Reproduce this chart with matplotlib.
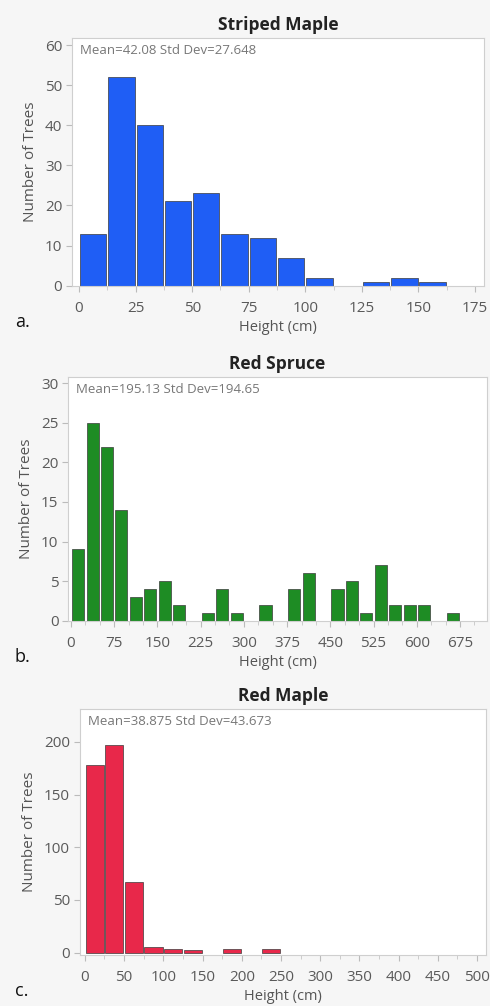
import matplotlib.pyplot as plt
import numpy as np

plt.rcParams['font.family'] = ['Open Sans', 'DejaVu Sans']

# bin edges (left) and counts
maple_s_left = np.arange(0, 175, 12.5)
maple_s_cnt = [13, 52, 40, 21, 23, 13, 12, 7, 2, 0, 1, 2, 1, 0]

spruce_left = np.arange(0, 700, 25)
spruce_cnt = [9, 25, 22, 14, 3, 4, 5, 2, 0, 1, 4, 1, 0, 2, 0, 4, 6, 0,
              4, 5, 1, 7, 2, 2, 2, 0, 1, 0]

maple_r_left = np.arange(0, 500, 25)
maple_r_cnt = [178, 197, 67, 5, 3, 2, 0, 3, 0, 3, 0, 0, 0, 0, 0, 0, 0, 0, 0, 0]

panels = [
    dict(name='Striped Maple', left=maple_s_left, cnt=maple_s_cnt, bw=12.5,
         color='#1f5ef5', stats='Mean=42.08 Std Dev=27.648',
         xlim=(-3.1, 179), ylim=(0, 61.7), xt=np.arange(0, 176, 25),
         xminor=np.arange(0, 176, 12.5), yt=np.arange(0, 61, 10),
         pos=[0.147, 0.716, 0.841, 0.246], tag='a.', gap=0.93),
    dict(name='Red Spruce', left=spruce_left, cnt=spruce_cnt, bw=25,
         color='#1e8c24', stats='Mean=195.13 Std Dev=194.65',
         xlim=(-5, 722), ylim=(0, 30.75), xt=np.arange(0, 676, 75),
         xminor=np.arange(0, 701, 25), yt=np.arange(0, 31, 5),
         pos=[0.139, 0.383, 0.855, 0.242], tag='b.', gap=0.84),
    dict(name='Red Maple', left=maple_r_left, cnt=maple_r_cnt, bw=25,
         color='#e8284a', stats='Mean=38.875 Std Dev=43.673',
         xlim=(-6.4, 511.5), ylim=(-2, 231), xt=np.arange(0, 501, 50),
         xminor=np.arange(0, 501, 25), yt=np.arange(0, 201, 50),
         pos=[0.163, 0.051, 0.829, 0.244], tag='c.', gap=0.92),
]

fig = plt.figure(figsize=(4.9, 10.06), dpi=100, facecolor='#f6f6f6')

for p in panels:
    ax = fig.add_axes(p['pos'])
    ax.set_facecolor('white')
    left = np.asarray(p['left'])
    cnt = np.asarray(p['cnt'])
    keep = cnt > 0
    w = p['bw'] * p['gap']
    ax.bar(left[keep] + (p['bw'] - w) / 2, cnt[keep], width=w, align='edge',
           color=p['color'], edgecolor='#3a3a3a', linewidth=0.5)
    ax.set_xlim(*p['xlim'])
    ax.set_ylim(*p['ylim'])
    ax.set_xticks(p['xt'])
    ax.set_xticks(p['xminor'], minor=True)
    ax.set_yticks(p['yt'])
    for s in ax.spines.values():
        s.set_color('#cfcfcf')
        s.set_linewidth(0.8)
    ax.tick_params(axis='both', which='major', labelsize=11, colors='#bbbbbb',
                   labelcolor='#5a5a5a', length=4, width=0.8, pad=3)
    ax.tick_params(axis='x', which='major', pad=7)
    ax.tick_params(axis='x', which='minor', colors='#cccccc', length=3, width=0.7)
    ax.set_title(p['name'], fontsize=12.5, fontweight='bold', color='#222222', pad=6)
    ax.set_xlabel('Height (cm)', fontsize=10.5, color='#555555', labelpad=3)
    ax.set_ylabel('Number of Trees', fontsize=11, color='#555555', labelpad=5)
    ax.text(0.02, 0.975, p['stats'], transform=ax.transAxes, fontsize=9.5,
            color='#777777', va='top', ha='left')
    bb = ax.get_position()
    fig.text(0.03, bb.y0 - 0.036, p['tag'], fontsize=13, color='#111111',
             va='center', ha='left')

fig.savefig('out.png', dpi=100, facecolor=fig.get_facecolor())
